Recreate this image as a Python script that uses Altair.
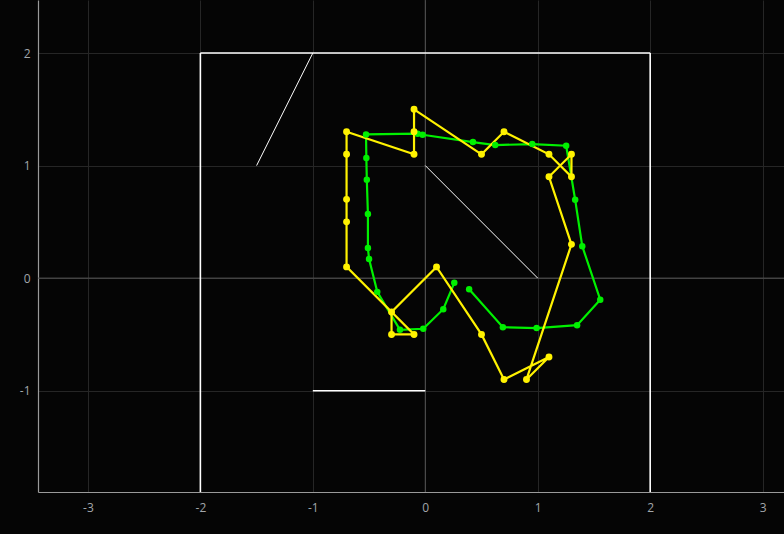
import altair as alt
import pandas as pd

# Yellow path (closed loop)
yellow_x = [-0.1, -0.1, -0.1, -0.7, -0.7, -0.7, -0.7, -0.7, -0.1, -0.3, -0.3, 0.1, 0.5, 0.7, 1.1, 0.9, 1.3, 1.1, 1.3, 1.3, 1.1, 0.7, 0.5]
yellow_y = [1.5, 1.3, 1.1, 1.3, 1.1, 0.7, 0.5, 0.1, -0.5, -0.5, -0.3, 0.1, -0.5, -0.9, -0.7, -0.9, 0.3, 0.9, 1.1, 0.9, 1.1, 1.3, 1.1]

# Green path (open)
green_x = [0.39, 0.69, 0.99, 1.35, 1.556, 1.396, 1.333, 1.253, 0.951, 0.622, 0.424, -0.024, -0.068, -0.527,
           -0.524, -0.52, -0.51, -0.51, -0.50, -0.427, -0.225, -0.018, 0.16, 0.258]
green_y = [-0.098, -0.436, -0.444, -0.418, -0.192, 0.284, 0.696, 1.176, 1.191, 1.182, 1.209, 1.274, 1.283, 1.277,
           1.067, 0.874, 0.569, 0.267, 0.169, -0.122, -0.459, -0.45, -0.276, -0.042]

# White reference segments
seg_x1 = [-2, -2, 2, -1.5, 0, -1]
seg_y1 = [-2, 2, 2, 1, 1, -1]
seg_x2 = [-2, 2, 2, -1, 1, 0]
seg_y2 = [2, 2, -2, 2, 0, -1]
seg_w = [1.6, 1.6, 1.6, 1.0, 1.0, 1.6]

x_ticks = [-3, -2, -1, 0, 1, 2, 3]
y_ticks = [-1, 0, 1, 2]

XD = [-3.444, 3.19]
YD = [-1.9, 2.471]

yl = pd.DataFrame({"x": yellow_x + [yellow_x[0]], "y": yellow_y + [yellow_y[0]]})
yl["o"] = range(len(yl))
yp = pd.DataFrame({"x": yellow_x, "y": yellow_y})
gl = pd.DataFrame({"x": green_x, "y": green_y})
gl["o"] = range(len(gl))
segs = pd.DataFrame({"x": seg_x1, "y": seg_y1, "x2": seg_x2, "y2": seg_y2, "w": seg_w})
zero = pd.DataFrame({"v": [0]})

xs = alt.Scale(domain=XD, nice=False, zero=False)
ys = alt.Scale(domain=YD, nice=False, zero=False)

lab = dict(labelColor="#a2a6aa", labelFont="Open Sans", labelFontSize=12, ticks=False,
           labelExpr="'' + datum.value",
           domainColor="#9a9a9a", domainWidth=1.2, gridColor="#262626", gridWidth=1)
xax = alt.Axis(values=x_ticks, title=None, labelPadding=10, **lab)
yax = alt.Axis(values=y_ticks, title=None, labelPadding=8, **lab)

base = alt.Chart(segs).mark_rule(color="white", clip=True).encode(
    x=alt.X("x:Q", scale=xs, axis=xax),
    y=alt.Y("y:Q", scale=ys, axis=yax),
    x2="x2:Q", y2="y2:Q",
    strokeWidth=alt.StrokeWidth("w:Q", scale=None, legend=None),
)

zx = alt.Chart(zero).mark_rule(color="#555555", strokeWidth=1).encode(x=alt.X("v:Q", scale=xs))
zy = alt.Chart(zero).mark_rule(color="#555555", strokeWidth=1).encode(y=alt.Y("v:Q", scale=ys))

GREEN = "#00f000"
YELLOW = "#fff200"

gline = alt.Chart(gl).mark_line(color=GREEN, strokeWidth=2.2).encode(
    x=alt.X("x:Q", scale=xs), y=alt.Y("y:Q", scale=ys), order="o:Q")
yline = alt.Chart(yl).mark_line(color=YELLOW, strokeWidth=2.2).encode(
    x=alt.X("x:Q", scale=xs), y=alt.Y("y:Q", scale=ys), order="o:Q")
gpts = alt.Chart(gl).mark_circle(color=GREEN, opacity=1, size=42).encode(
    x=alt.X("x:Q", scale=xs), y=alt.Y("y:Q", scale=ys))
ypts = alt.Chart(yp).mark_circle(color=YELLOW, opacity=1, size=48).encode(
    x=alt.X("x:Q", scale=xs), y=alt.Y("y:Q", scale=ys))

chart = alt.layer(zx, zy, base, gline, yline, gpts, ypts).properties(
    width=746, height=492,
    background="#050505",
    autosize=alt.AutoSizeParams(type="none"),
    padding={"left": 38, "top": 0, "right": 0, "bottom": 42},
).configure_view(stroke=None)

chart.save("out.html", embed_options={"renderer": "svg", "actions": False})
